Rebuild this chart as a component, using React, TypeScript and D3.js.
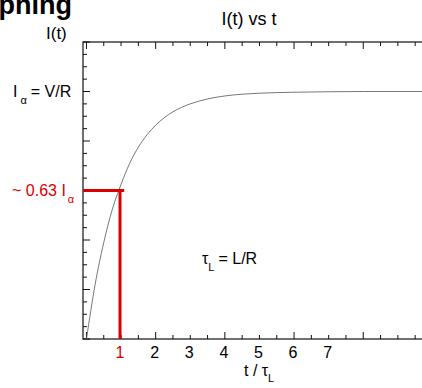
import React from "react";
import * as d3 from "d3";

const width = 422;
const height = 388;
const margin = { top: 42, right: -7, bottom: 49, left: 83 };

// I(t), in units of I_alpha
const tValues = [0, 0.25, 0.5, 0.75, 1, 1.25, 1.5, 1.75, 2, 2.25, 2.5, 2.75, 3, 3.5, 4, 5, 6, 7, 8, 9, 9.9];
const iValues = [0, 0.22, 0.39, 0.525, 0.625, 0.71, 0.775, 0.825, 0.864, 0.894, 0.918, 0.936, 0.95, 0.97, 0.982, 0.993, 0.997, 0.999, 1, 1, 1];

const xTickLabels = ["1", "2", "3", "4", "5", "6", "7"];
const markT = 0.97;
const markI = 0.6;
const markEndT = 1.09;

const red = "#d80000";
const font = "'Liberation Sans', Arial, sans-serif";

export default function App() {
  const x = d3
    .scaleLinear()
    .domain([-0.1, 9.9])
    .range([margin.left, width - margin.right]);

  const y = d3
    .scaleLinear()
    .domain([0, 1.2])
    .range([height - margin.bottom, margin.top]);

  const [x0, x1] = x.range();
  const [yb, yt] = y.range();

  const data = tValues.map((t, i) => ({ t, v: iValues[i] }));

  const line = d3
    .line<{ t: number; v: number }>()
    .x(d => x(d.t))
    .y(d => y(d.v))
    .curve(d3.curveMonotoneX);

  // ticks every half unit on x, every 0.05 on y
  const xTicks = d3.range(0, 20).map(i => i / 2);
  const yTicks = d3.range(0, 25).map(i => +(i * 0.05).toFixed(2));

  return (
    <svg
      width={width}
      height={height}
      style={{ position: "absolute", left: 0, top: 0, background: "#fff" }}
      fontFamily={font}
    >
      {/* page heading, cut off on the left like the source slide */}
      <text x={72} y={14} textAnchor="end" fontSize={27} fontWeight="bold">
        Graphing
      </text>

      <text x={249} y={25} textAnchor="middle" fontSize={18}>
        I(t) vs t
      </text>
      <text x={46} y={39} fontSize={17}>
        I(t)
      </text>

      {/* frame */}
      <rect x={x0} y={yt} width={x1 - x0} height={yb - yt} fill="none" stroke="#111" strokeWidth={1.2} />

      {/* x ticks */}
      {xTicks.map(t => {
        const len = t % 2 === 0 ? 7 : 4;
        return (
          <g key={"x" + t} stroke="#111" strokeWidth={1}>
            <line x1={x(t)} x2={x(t)} y1={yb} y2={yb - len} />
            <line x1={x(t)} x2={x(t)} y1={yt} y2={yt + len} />
          </g>
        );
      })}

      {/* y ticks */}
      {yTicks.map(v => {
        const major = Math.abs(v / 0.2 - Math.round(v / 0.2)) < 1e-6;
        const len = major ? 7 : 4;
        return (
          <g key={"y" + v} stroke="#111" strokeWidth={1}>
            <line x1={x0} x2={x0 + len} y1={y(v)} y2={y(v)} />
            <line x1={x1} x2={x1 - len} y1={y(v)} y2={y(v)} />
          </g>
        );
      })}

      {/* x tick labels */}
      {xTickLabels.map(l => (
        <text
          key={l}
          x={x(+l) - 1}
          y={yb + 19}
          textAnchor="middle"
          fontSize={16}
          fill={l === "1" ? red : "#000"}
        >
          {l}
        </text>
      ))}

      <text x={244} y={376} fontSize={16}>
        t / τ
        <tspan fontSize={11} dy={6}>L</tspan>
      </text>

      {/* curve */}
      <path d={line(data) ?? ""} fill="none" stroke="#555" strokeWidth={0.8} />

      {/* 1 - 1/e marker */}
      <line x1={x0} x2={x(markEndT)} y1={y(markI)} y2={y(markI)} stroke={red} strokeWidth={3} />
      <line x1={x(markT)} x2={x(markT)} y1={y(markI)} y2={yb} stroke={red} strokeWidth={3} />

      {/* left annotations */}
      <text x={13} y={97} fontSize={16}>
        I
        <tspan fontSize={11} dx={3} dy={7}>α</tspan>
        <tspan dx={4} dy={-7}>= V/R</tspan>
      </text>
      <text x={12} y={196} fontSize={16} fill={red}>
        ~ 0.63 I
        <tspan fontSize={11} dx={2} dy={7}>α</tspan>
      </text>

      <text x={202} y={264} fontSize={16}>
        τ
        <tspan fontSize={11} dy={7}>L</tspan>
        <tspan dx={4} dy={-7}>= L/R</tspan>
      </text>
    </svg>
  );
}
